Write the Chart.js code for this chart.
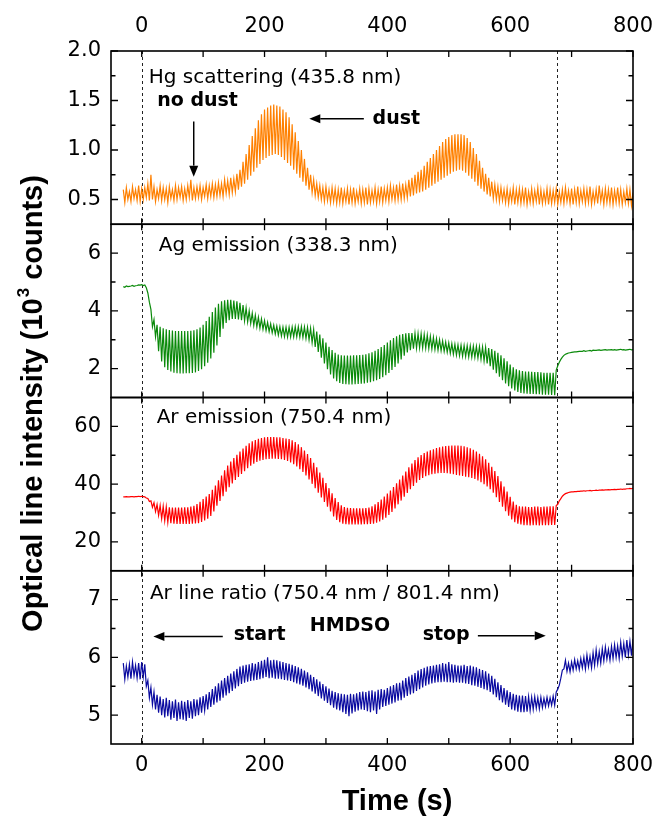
<!DOCTYPE html>
<html>
<head>
<meta charset="utf-8">
<script src="https://cdn.jsdelivr.net/npm/chart.js@4/dist/chart.umd.min.js"></script>
<style>
html,body{margin:0;padding:0;background:#fff;}
#wrap{width:667px;height:818px;position:relative;}
</style>
</head>
<body>
<div id="wrap"><canvas id="c" width="667" height="818"></canvas></div>
<script>
// ---- sampling grid (s): envelopes read every 5 s, upper at t, lower at t+2.5 ----
const T_START = -30;
const T_STEP = 5;

// ---- Hg scattering (435.8 nm), 10^3 counts ----
const hgUpper = [
 0.60,0.62,0.58,0.63,0.60,0.64,0.61,0.62,0.66,0.75,
 0.63,0.60,0.64,0.62,0.61,0.63,0.60,0.64,0.62,0.63,
 0.61,0.64,0.70,0.62,0.63,0.64,0.62,0.65,0.64,0.66,
 0.65,0.67,0.66,0.70,0.69,0.72,0.71,0.76,0.80,0.88,
 0.96,1.05,1.14,1.22,1.30,1.36,1.41,1.43,1.45,1.46,
 1.45,1.44,1.41,1.38,1.33,1.26,1.18,1.09,1.00,0.91,
 0.82,0.75,0.70,0.66,0.64,0.62,0.63,0.60,0.62,0.61,
 0.60,0.62,0.59,0.61,0.60,0.62,0.58,0.61,0.60,0.62,
 0.61,0.59,0.62,0.60,0.63,0.61,0.62,0.64,0.62,0.65,
 0.64,0.66,0.65,0.70,0.72,0.75,0.78,0.80,0.84,0.88,
 0.92,0.96,1.00,1.04,1.08,1.11,1.13,1.15,1.16,1.16,
 1.16,1.15,1.12,1.08,1.02,0.96,0.89,0.82,0.76,0.72,
 0.68,0.65,0.63,0.62,0.60,0.61,0.59,0.62,0.60,0.61,
 0.60,0.62,0.58,0.61,0.59,0.62,0.60,0.58,0.61,0.60,
 0.59,0.61,0.58,0.60,0.62,0.59,0.61,0.60,0.63,0.59,
 0.61,0.60,0.63,0.58,0.60,0.64,0.59,0.61,0.60,0.62,
 0.59,0.62,0.60,0.58,0.61,0.60,0.57
];
const hgLower = [
 0.47,0.50,0.48,0.51,0.49,0.48,0.50,0.52,0.49,0.50,
 0.48,0.51,0.49,0.50,0.47,0.51,0.49,0.50,0.52,0.49,
 0.50,0.52,0.49,0.51,0.52,0.50,0.53,0.51,0.53,0.52,
 0.53,0.54,0.53,0.56,0.55,0.57,0.58,0.60,0.63,0.66,
 0.70,0.74,0.78,0.82,0.86,0.90,0.92,0.94,0.95,0.96,
 0.95,0.93,0.90,0.87,0.84,0.80,0.76,0.72,0.68,0.64,
 0.60,0.57,0.54,0.52,0.50,0.48,0.49,0.47,0.48,0.46,
 0.47,0.46,0.48,0.45,0.47,0.46,0.48,0.46,0.47,0.45,
 0.47,0.48,0.46,0.48,0.47,0.49,0.48,0.50,0.49,0.50,
 0.50,0.51,0.52,0.53,0.54,0.56,0.57,0.58,0.60,0.62,
 0.64,0.66,0.68,0.70,0.72,0.74,0.76,0.78,0.79,0.80,
 0.79,0.77,0.74,0.71,0.68,0.64,0.61,0.58,0.55,0.53,
 0.51,0.50,0.48,0.49,0.47,0.46,0.48,0.45,0.47,0.46,
 0.47,0.45,0.47,0.46,0.48,0.45,0.46,0.47,0.45,0.46,
 0.47,0.45,0.47,0.46,0.48,0.46,0.45,0.47,0.46,0.48,
 0.46,0.47,0.45,0.47,0.46,0.48,0.45,0.47,0.46,0.45,
 0.47,0.46,0.45,0.47,0.46,0.44,0.45
];

// ---- Ag emission (338.3 nm), 10^3 counts ----
const agUpper = [
 4.84,4.86,4.85,4.88,4.87,4.90,4.91,4.90,4.62,4.05,
 3.70,3.52,3.45,3.40,3.36,3.34,3.32,3.30,3.30,3.30,
 3.30,3.30,3.31,3.33,3.36,3.42,3.52,3.65,3.80,3.96,
 4.12,4.25,4.33,4.37,4.38,4.38,4.36,4.33,4.28,4.20,
 4.10,4.00,3.92,3.85,3.78,3.72,3.66,3.60,3.55,3.50,
 3.47,3.45,3.44,3.43,3.43,3.44,3.45,3.45,3.45,3.44,
 3.43,3.40,3.35,3.28,3.18,3.05,2.90,2.76,2.64,2.55,
 2.49,2.46,2.45,2.45,2.45,2.46,2.46,2.47,2.48,2.50,
 2.53,2.57,2.62,2.68,2.75,2.82,2.90,2.98,3.06,3.12,
 3.17,3.20,3.22,3.23,3.23,3.22,3.21,3.20,3.18,3.16,
 3.12,3.08,3.04,3.00,2.96,2.92,2.89,2.86,2.84,2.82,
 2.81,2.80,2.80,2.79,2.78,2.77,2.76,2.75,2.73,2.71,
 2.68,2.62,2.55,2.46,2.36,2.25,2.14,2.05,1.98,1.94,
 1.92,1.90,1.90,1.89,1.88,1.88,1.87,1.86,1.86,1.86,
 1.86,1.95,2.22,2.40,2.50,2.54,2.56,2.58,2.59,2.60,
 2.62,2.61,2.63,2.64,2.63,2.65,2.64,2.66,2.65,2.66,
 2.66,2.65,2.67,2.66,2.65,2.67,2.66
];
const agLower = [
 4.82,4.84,4.86,4.85,4.88,4.89,4.88,4.80,4.30,3.45,
 3.10,2.60,2.25,2.05,1.95,1.90,1.86,1.84,1.83,1.83,
 1.84,1.84,1.85,1.87,1.92,1.98,2.08,2.20,2.35,2.55,
 2.80,3.10,3.38,3.58,3.68,3.72,3.72,3.70,3.68,3.66,
 3.62,3.56,3.50,3.45,3.40,3.36,3.32,3.28,3.24,3.20,
 3.16,3.13,3.11,3.10,3.10,3.10,3.10,3.09,3.08,3.05,
 3.00,2.90,2.75,2.58,2.38,2.18,1.98,1.80,1.66,1.56,
 1.50,1.47,1.46,1.45,1.45,1.46,1.47,1.48,1.49,1.51,
 1.53,1.56,1.60,1.64,1.70,1.77,1.85,1.95,2.06,2.18,
 2.32,2.45,2.56,2.64,2.69,2.71,2.72,2.72,2.71,2.70,
 2.68,2.66,2.64,2.62,2.60,2.57,2.53,2.50,2.47,2.45,
 2.43,2.42,2.41,2.40,2.39,2.37,2.33,2.27,2.18,2.08,
 1.96,1.84,1.72,1.60,1.49,1.39,1.31,1.24,1.19,1.16,
 1.14,1.13,1.12,1.12,1.11,1.11,1.10,1.10,1.10,1.09,
 1.08,2.10,2.32,2.46,2.52,2.55,2.57,2.58,2.60,2.60,
 2.60,2.62,2.61,2.63,2.64,2.63,2.65,2.64,2.65,2.64,
 2.64,2.66,2.65,2.64,2.66,2.65,2.66
];

// ---- Ar emission (750.4 nm), 10^3 counts ----
const arUpper = [
 35.6,35.7,35.6,35.7,35.7,35.8,35.8,35.6,35.0,34.2,
 33.6,33.0,32.6,32.3,32.1,32.0,31.9,31.9,31.9,31.9,
 32.0,32.0,32.2,32.5,33.1,33.9,34.8,35.7,36.6,38.0,
 39.5,41.3,43.0,44.8,46.4,47.8,49.0,50.2,51.3,52.3,
 53.3,54.1,54.8,55.3,55.7,56.0,56.2,56.3,56.3,56.3,
 56.2,56.2,56.0,55.8,55.6,55.2,54.6,53.8,52.8,51.6,
 50.4,49.0,47.4,45.8,44.0,42.2,40.4,38.6,36.8,35.2,
 33.8,32.7,32.1,31.8,31.7,31.6,31.6,31.6,31.6,31.7,
 31.9,32.3,33.0,33.8,34.7,35.7,36.7,37.8,39.0,40.3,
 41.6,43.0,44.4,45.8,47.1,48.3,49.3,50.1,50.8,51.3,
 51.7,52.1,52.5,52.8,53.0,53.2,53.3,53.4,53.4,53.4,
 53.3,53.1,52.8,52.4,51.9,51.3,50.5,49.6,48.6,47.4,
 46.0,44.5,42.8,41.0,39.2,37.4,35.6,34.0,32.8,32.3,
 32.2,32.2,32.1,32.1,32.2,32.2,32.1,32.2,32.2,32.3,
 32.3,32.6,34.2,35.8,36.7,37.1,37.3,37.4,37.5,37.6,
 37.7,37.7,37.8,37.8,37.9,37.9,38.0,38.0,38.1,38.1,
 38.2,38.2,38.3,38.3,38.4,38.5,38.6
];
const arLower = [
 35.6,35.6,35.7,35.6,35.7,35.7,35.7,35.2,34.0,32.0,
 30.5,29.2,28.0,27.3,26.8,26.5,26.3,26.2,26.2,26.2,
 26.2,26.2,26.3,26.4,26.5,26.9,27.4,28.0,29.0,30.5,
 32.5,34.2,35.8,37.4,38.9,40.2,41.4,42.5,43.5,44.5,
 45.5,46.4,47.1,47.7,48.1,48.4,48.6,48.7,48.8,48.8,
 48.7,48.6,48.4,48.0,47.5,46.9,46.1,45.2,44.2,43.0,
 41.6,40.1,38.6,37.0,35.4,33.8,32.2,30.5,28.8,27.6,
 26.8,26.3,26.1,26.0,26.0,26.0,26.0,26.0,26.1,26.1,
 26.2,26.3,26.6,27.1,27.7,28.4,29.3,30.4,31.6,33.0,
 34.3,35.6,36.9,38.2,39.4,40.5,41.4,42.1,42.7,43.1,
 43.4,43.6,43.8,43.9,43.9,43.8,43.6,43.4,43.2,43.0,
 42.8,42.6,42.4,42.1,41.8,41.3,40.7,40.0,39.2,38.2,
 37.0,35.5,33.8,32.2,30.6,29.1,27.8,26.8,26.3,26.0,
 25.8,25.8,25.7,25.8,25.8,25.7,25.8,25.8,25.8,25.9,
 25.9,33.0,35.0,36.3,36.9,37.2,37.3,37.4,37.5,37.6,
 37.6,37.7,37.7,37.8,37.8,37.9,37.9,38.0,38.0,38.1,
 38.1,38.2,38.2,38.3,38.4,38.4,38.5
];

// ---- Ar line ratio (750.4 nm / 801.4 nm) ----
const ratioUpper = [
 5.90,5.85,5.88,5.92,5.86,5.90,5.92,5.88,5.60,5.48,
 5.40,5.35,5.32,5.28,5.30,5.26,5.24,5.27,5.22,5.25,
 5.23,5.26,5.24,5.28,5.27,5.31,5.33,5.36,5.40,5.45,
 5.50,5.55,5.60,5.64,5.68,5.72,5.76,5.80,5.84,5.86,
 5.87,5.88,5.90,5.89,5.92,5.94,5.96,6.00,5.95,5.96,
 5.95,5.93,5.92,5.90,5.89,5.87,5.85,5.83,5.80,5.77,
 5.74,5.70,5.66,5.62,5.58,5.54,5.50,5.46,5.42,5.40,
 5.38,5.37,5.36,5.35,5.37,5.36,5.38,5.40,5.41,5.40,
 5.42,5.43,5.41,5.44,5.45,5.44,5.47,5.50,5.52,5.55,
 5.56,5.60,5.64,5.67,5.70,5.73,5.77,5.80,5.82,5.84,
 5.85,5.86,5.87,5.88,5.90,5.89,5.92,5.88,5.87,5.86,
 5.86,5.87,5.85,5.86,5.84,5.83,5.80,5.78,5.76,5.72,
 5.68,5.63,5.57,5.52,5.47,5.43,5.40,5.37,5.35,5.34,
 5.34,5.33,5.32,5.31,5.32,5.30,5.31,5.29,5.31,5.30,
 5.33,5.40,5.52,5.78,5.95,5.90,5.92,5.96,5.94,5.98,
 6.00,6.04,6.02,6.08,6.13,6.10,6.15,6.18,6.14,6.19,
 6.22,6.20,6.26,6.24,6.30,6.28,6.32
];
const ratioLower = [
 5.62,5.66,5.63,5.68,5.64,5.62,5.66,5.50,5.30,5.18,
 5.10,5.04,5.00,4.96,4.98,4.92,4.95,4.90,4.93,4.92,
 4.90,4.95,4.94,4.98,5.00,5.04,5.08,5.10,5.14,5.18,
 5.22,5.25,5.30,5.34,5.38,5.42,5.46,5.50,5.54,5.56,
 5.58,5.59,5.60,5.61,5.62,5.64,5.66,5.64,5.65,5.63,
 5.63,5.62,5.61,5.60,5.59,5.57,5.55,5.53,5.51,5.48,
 5.45,5.41,5.37,5.33,5.29,5.25,5.21,5.17,5.13,5.10,
 5.08,5.05,5.02,4.98,5.03,5.06,5.08,5.10,5.09,5.07,
 5.05,5.08,5.02,5.10,5.14,5.16,5.18,5.20,5.22,5.25,
 5.26,5.30,5.33,5.36,5.38,5.42,5.45,5.48,5.51,5.53,
 5.55,5.56,5.57,5.57,5.58,5.57,5.57,5.56,5.57,5.56,
 5.56,5.55,5.54,5.52,5.51,5.49,5.47,5.45,5.43,5.40,
 5.36,5.31,5.26,5.22,5.18,5.14,5.10,5.08,5.06,5.05,
 5.05,5.06,5.08,5.10,5.12,5.11,5.13,5.15,5.16,5.17,
 5.17,5.45,5.64,5.80,5.76,5.75,5.78,5.80,5.79,5.82,
 5.80,5.84,5.82,5.86,5.89,5.90,5.94,5.97,5.95,5.98,
 6.00,5.98,6.02,6.00,6.04,6.03,6.06
];

// ---- axes / ticks ----
const xTicks = [0, 200, 400, 600, 800];
const xTickLabels = ['0', '200', '400', '600', '800'];
const xMinorTicks = [100, 300, 500, 700];
const hgTicks = [0.5, 1.0, 1.5, 2.0];
const hgTickLabels = ['0.5', '1.0', '1.5', '2.0'];
const hgMinor = [0.75, 1.25, 1.75];
const agTicks = [2, 4, 6];
const agTickLabels = ['2', '4', '6'];
const agMinor = [3, 5];
const arTicks = [20, 40, 60];
const arTickLabels = ['20', '40', '60'];
const arMinor = [30, 50];
const ratioTicks = [5, 6, 7];
const ratioTickLabels = ['5', '6', '7'];
const ratioMinor = [5.5, 6.5];

// HMDSO start / stop times (s)
const eventTimes = [0, 676];

const panelTitles = ['Hg scattering (435.8 nm)', 'Ag emission (338.3 nm)', 'Ar emission (750.4 nm)', 'Ar line ratio (750.4 nm / 801.4 nm)'];

function zigzag(upper, lower) {
  const pts = [];
  upper.forEach((u, i) => {
    pts.push({x: T_START + T_STEP * i, y: u});
    if (i < lower.length) pts.push({x: T_START + T_STEP * i + T_STEP / 2, y: lower[i]});
  });
  return pts;
}

const SANS = '"DejaVu Sans", sans-serif';
const ARIAL = '"Liberation Sans", Arial, sans-serif';
Chart.defaults.font.family = SANS;
Chart.defaults.color = '#000';

function yScale(min, max, ticks, labels) {
  return {
    type: 'linear', position: 'left', stack: 'panels', stackWeight: 1,
    min: min, max: max,
    afterBuildTicks: s => { s.ticks = ticks.map(v => ({value: v})); },
    afterFit: s => { s.width = 111; },
    ticks: { font: {size: 21}, color: '#000', padding: 10,
             callback: (v, i) => labels[i] },
    grid: {display: false, drawTicks: false},
    border: {display: false}
  };
}
function xScale(pos, pad, h) {
  return {
    type: 'linear', position: pos, min: -50, max: 800,
    afterBuildTicks: s => { s.ticks = xTicks.map(v => ({value: v})); },
    afterFit: s => { s.height = h; },
    ticks: { font: {size: 21}, color: '#000', padding: pad, maxRotation: 0, autoSkip: false,
             callback: (v, i) => xTickLabels[i] },
    grid: {display: false, drawTicks: false},
    border: {display: false}
  };
}

const panels = [
  {id: 'yHg', major: hgTicks, minor: hgMinor},
  {id: 'yAg', major: agTicks, minor: agMinor},
  {id: 'yAr', major: arTicks, minor: arMinor},
  {id: 'yRatio', major: ratioTicks, minor: ratioMinor}
];

function drawArrow(ctx, x1, y1, x2, y2) {
  const ang = Math.atan2(y2 - y1, x2 - x1);
  const L = 11, W = 4.5;
  const bx = x2 - L * Math.cos(ang), by = y2 - L * Math.sin(ang);
  ctx.beginPath();
  ctx.moveTo(x1, y1); ctx.lineTo(bx, by);
  ctx.lineWidth = 1.5; ctx.stroke();
  ctx.beginPath();
  ctx.moveTo(x2, y2);
  ctx.lineTo(bx + W * Math.sin(ang), by - W * Math.cos(ang));
  ctx.lineTo(bx - W * Math.sin(ang), by + W * Math.cos(ang));
  ctx.closePath(); ctx.fill();
}

const decor = {
  id: 'decor',
  beforeDatasetsDraw(chart) {
    const {ctx, chartArea, scales} = chart;
    ctx.save();
    ctx.strokeStyle = '#222'; ctx.lineWidth = 1; ctx.setLineDash([3, 3]);
    eventTimes.forEach(t => {
      const px = Math.round(scales.x.getPixelForValue(t)) + 0.5;
      ctx.beginPath(); ctx.moveTo(px, chartArea.top); ctx.lineTo(px, chartArea.bottom); ctx.stroke();
    });
    ctx.restore();
  },
  afterDraw(chart) {
    const {ctx, scales} = chart;
    const X = scales.x;
    const xL = X.left, xR = X.right;
    ctx.save();
    ctx.strokeStyle = '#000'; ctx.fillStyle = '#000';
    // frames and inward ticks
    panels.forEach(p => {
      const s = scales[p.id];
      ctx.lineWidth = 1.6;
      ctx.strokeRect(xL, s.top, xR - xL, s.bottom - s.top);
      ctx.lineWidth = 1.3;
      ctx.beginPath();
      xTicks.concat(xMinorTicks).forEach(v => {
        const px = X.getPixelForValue(v);
        ctx.moveTo(px, s.top); ctx.lineTo(px, s.top + 6);
        ctx.moveTo(px, s.bottom); ctx.lineTo(px, s.bottom - 6);
      });
      p.major.forEach(v => {
        const py = s.getPixelForValue(v);
        ctx.moveTo(xL, py); ctx.lineTo(xL + 7, py);
        ctx.moveTo(xR, py); ctx.lineTo(xR - 7, py);
      });
      p.minor.forEach(v => {
        const py = s.getPixelForValue(v);
        ctx.moveTo(xL, py); ctx.lineTo(xL + 4.5, py);
        ctx.moveTo(xR, py); ctx.lineTo(xR - 4.5, py);
      });
      ctx.stroke();
    });

    const P = (t, id, v) => [X.getPixelForValue(t), scales[id].getPixelForValue(v)];
    ctx.textBaseline = 'middle'; ctx.textAlign = 'left';
    // panel titles
    ctx.font = '20px ' + SANS;
    let q;
    q = P(11.4, 'yHg', 1.73); ctx.fillText(panelTitles[0], q[0], q[1]);
    q = P(27.7, 'yAg', 6.27); ctx.fillText(panelTitles[1], q[0], q[1]);
    q = P(24.4, 'yAr', 63.1); ctx.fillText(panelTitles[2], q[0], q[1]);
    q = P(13.4, 'yRatio', 7.1); ctx.fillText(panelTitles[3], q[0], q[1]);
    // bold annotations
    ctx.font = 'bold 19px ' + SANS;
    q = P(25.3, 'yHg', 1.49); ctx.fillText('no dust', q[0], q[1]);
    q = P(376, 'yHg', 1.315); ctx.fillText('dust', q[0], q[1]);
    q = P(150, 'yRatio', 6.39); ctx.fillText('start', q[0], q[1]);
    q = P(273.7, 'yRatio', 6.55); ctx.fillText('HMDSO', q[0], q[1]);
    q = P(457.5, 'yRatio', 6.39); ctx.fillText('stop', q[0], q[1]);
    // arrows
    let a, b;
    a = P(84.7, 'yHg', 1.288); b = P(84.7, 'yHg', 0.731); drawArrow(ctx, a[0], a[1], b[0], b[1]);
    a = P(361.7, 'yHg', 1.315); b = P(272.9, 'yHg', 1.315); drawArrow(ctx, a[0], a[1], b[0], b[1]);
    a = P(132, 'yRatio', 6.36); b = P(19, 'yRatio', 6.36); drawArrow(ctx, a[0], a[1], b[0], b[1]);
    a = P(547.4, 'yRatio', 6.375); b = P(657.9, 'yRatio', 6.375); drawArrow(ctx, a[0], a[1], b[0], b[1]);

    // x title
    ctx.font = 'bold 29px ' + ARIAL;
    ctx.textAlign = 'center';
    ctx.fillText('Time (s)', 397, 802);

    // y title with superscript
    ctx.save();
    ctx.translate(34, 404);
    ctx.rotate(-Math.PI / 2);
    ctx.textAlign = 'left';
    const fMain = 'bold 29px ' + ARIAL, fSup = 'bold 17px ' + ARIAL;
    const sA = 'Optical line intensity (10', sS = '3', sB = ' counts)';
    ctx.font = fMain; const wA = ctx.measureText(sA).width, wB = ctx.measureText(sB).width;
    ctx.font = fSup; const wS = ctx.measureText(sS).width;
    const x0 = -(wA + wS + wB) / 2;
    ctx.font = fMain; ctx.fillText(sA, x0, 0);
    ctx.font = fSup; ctx.fillText(sS, x0 + wA + 1, -10);
    ctx.font = fMain; ctx.fillText(sB, x0 + wA + wS + 1, 0);
    ctx.restore();
    ctx.restore();
  }
};

new Chart(document.getElementById('c'), {
  type: 'line',
  data: {
    datasets: [
      {label: panelTitles[0], data: zigzag(hgUpper, hgLower), yAxisID: 'yHg', xAxisID: 'x', borderColor: '#FF8000', borderWidth: 1.2},
      {label: panelTitles[1], data: zigzag(agUpper, agLower), yAxisID: 'yAg', xAxisID: 'x', borderColor: '#0A8A0A', borderWidth: 1.2},
      {label: panelTitles[2], data: zigzag(arUpper, arLower), yAxisID: 'yAr', xAxisID: 'x', borderColor: '#FF0000', borderWidth: 1.2},
      {label: panelTitles[3], data: zigzag(ratioUpper, ratioLower), yAxisID: 'yRatio', xAxisID: 'x', borderColor: '#0A0AA0', borderWidth: 1.2}
    ]
  },
  options: {
    responsive: false,
    animation: false,
    devicePixelRatio: 1,
    layout: {padding: {left: 0, right: 34, top: 0, bottom: 0}},
    elements: {point: {radius: 0}, line: {tension: 0}},
    plugins: {legend: {display: false}, tooltip: {enabled: false}},
    scales: {
      x: xScale('bottom', 9, 74),
      x2: xScale('top', 12, 51),
      // stacked panels: the first listed is placed at the bottom
      yRatio: yScale(4.5, 7.5, ratioTicks, ratioTickLabels),
      yAr: yScale(10, 70, arTicks, arTickLabels),
      yAg: yScale(1, 7, agTicks, agTickLabels),
      yHg: yScale(0.25, 2.0, hgTicks, hgTickLabels)
    }
  },
  plugins: [decor]
});
</script>
</body>
</html>
